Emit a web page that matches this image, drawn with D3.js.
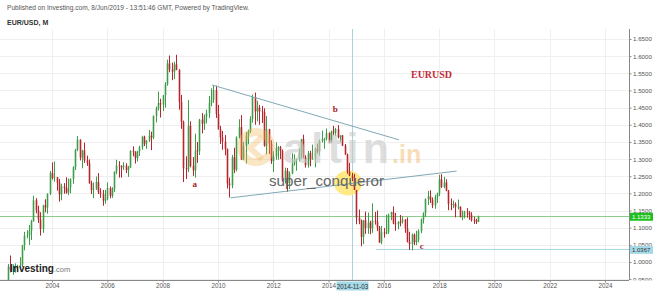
<!DOCTYPE html>
<html><head><meta charset="utf-8">
<script src="https://cdn.jsdelivr.net/npm/d3@7"></script>
<style>html,body{margin:0;padding:0;background:#fff;overflow:hidden}</style>
</head><body><svg id="c" width="654" height="292"></svg>
<script>
// ---------- DATA ----------
const firstMonth = "2002-01";
const firstOpen = 0.8900;
const closes = [
0.8605,0.8700,0.8720,0.9015,0.9330,0.9870,0.9780,0.9810,0.9870,0.9880,0.9920,1.0490,
1.0770,1.0780,1.0910,1.1180,1.1800,1.1500,1.1240,1.0960,1.1650,1.1590,1.1990,1.2590,
1.2450,1.2470,1.2310,1.1970,1.2200,1.2160,1.2020,1.2170,1.2420,1.2760,1.3270,1.3570,
1.3040,1.3250,1.2960,1.2880,1.2300,1.2100,1.2130,1.2330,1.2030,1.1990,1.1790,1.1840,
1.2160,1.1930,1.2120,1.2630,1.2810,1.2790,1.2760,1.2810,1.2680,1.2750,1.3240,1.3200,
1.3030,1.3230,1.3350,1.3650,1.3450,1.3540,1.3680,1.3630,1.4260,1.4480,1.4630,1.4590,
1.4860,1.5180,1.5790,1.5610,1.5550,1.5760,1.5600,1.4670,1.4090,1.2730,1.2700,1.3970,
1.2800,1.2670,1.3250,1.3230,1.4150,1.4030,1.4250,1.4330,1.4640,1.4720,1.5010,1.4320,
1.3870,1.3630,1.3510,1.3290,1.2290,1.2230,1.3050,1.2690,1.3630,1.3930,1.2990,1.3380,
1.3690,1.3810,1.4170,1.4810,1.4390,1.4500,1.4390,1.4370,1.3390,1.3870,1.3450,1.2940,
1.3080,1.3330,1.3340,1.3240,1.2370,1.2660,1.2300,1.2580,1.2860,1.2960,1.2990,1.3190,
1.3580,1.3060,1.2820,1.3170,1.3000,1.3010,1.3300,1.3220,1.3530,1.3580,1.3590,1.3760,
1.3490,1.3800,1.3770,1.3870,1.3640,1.3690,1.3390,1.3130,1.2630,1.2520,1.2450,1.2100,
1.1290,1.1200,1.0730,1.1220,1.0990,1.1150,1.0980,1.1210,1.1180,1.1000,1.0570,1.0860,
1.0830,1.0870,1.1380,1.1450,1.1130,1.1100,1.1170,1.1160,1.1240,1.0980,1.0590,1.0520,
1.0800,1.0580,1.0650,1.0900,1.1240,1.1420,1.1840,1.1910,1.1810,1.1650,1.1900,1.2000,
1.2410,1.2190,1.2320,1.2080,1.1690,1.1680,1.1690,1.1600,1.1610,1.1310,1.1320,1.1470,
1.1450,1.1370,1.1220,1.1210,1.1170,1.1333];
const highs = [
0.9040,0.8790,0.8850,0.9040,0.9380,0.9940,1.0190,0.9930,0.9960,0.9920,1.0140,1.0500,
1.0880,1.0930,1.1080,1.1230,1.1930,1.1860,1.1640,1.1450,1.1670,1.1830,1.2000,1.2650,
1.2900,1.2930,1.2480,1.2420,1.2280,1.2300,1.2470,1.2430,1.2440,1.2790,1.3300,1.3670,
1.3570,1.3270,1.3480,1.3100,1.2990,1.2370,1.2320,1.2490,1.2590,1.2150,1.2100,1.2100,
1.2320,1.2200,1.2180,1.2640,1.2980,1.2940,1.2820,1.2910,1.2880,1.2800,1.3260,1.3370,
1.3230,1.3240,1.3390,1.3680,1.3680,1.3550,1.3850,1.3800,1.4270,1.4530,1.4970,1.4760,
1.4870,1.5240,1.5900,1.6020,1.5810,1.5840,1.6040,1.5620,1.4870,1.4120,1.3080,1.4720,
1.4100,1.3060,1.3740,1.3500,1.4170,1.4340,1.4300,1.4440,1.4840,1.5060,1.5140,1.5140,
1.4580,1.3970,1.3820,1.3700,1.3310,1.2460,1.3120,1.3330,1.3660,1.4160,1.4280,1.3500,
1.3790,1.3860,1.4250,1.4880,1.4940,1.4700,1.4580,1.4550,1.4480,1.4250,1.3880,1.3550,
1.3230,1.3490,1.3380,1.3380,1.3280,1.2750,1.2740,1.2640,1.3170,1.3140,1.3010,1.3310,
1.3590,1.3710,1.3110,1.3240,1.3240,1.3420,1.3340,1.3450,1.3570,1.3830,1.3620,1.3890,
1.3780,1.3830,1.3970,1.3910,1.3990,1.3690,1.3700,1.3440,1.3160,1.2890,1.2600,1.2570,
1.2100,1.1530,1.1240,1.1220,1.1470,1.1440,1.1200,1.1710,1.1460,1.1500,1.1050,1.1050,
1.0990,1.1380,1.1410,1.1460,1.1620,1.1430,1.1190,1.1370,1.1330,1.1250,1.1300,1.0880,
1.0830,1.0830,1.0910,1.0950,1.1270,1.1450,1.1850,1.2070,1.2090,1.1880,1.1960,1.2020,
1.2540,1.2560,1.2480,1.2410,1.2100,1.1850,1.1790,1.1740,1.1820,1.1620,1.1500,1.1490,
1.1570,1.1490,1.1450,1.1320,1.1260,1.1350];
const lows = [
0.8580,0.8565,0.8660,0.8720,0.9000,0.9300,0.9700,0.9630,0.9690,0.9700,0.9870,0.9860,
1.0340,1.0690,1.0500,1.0640,1.1180,1.1420,1.1140,1.0770,1.0850,1.1450,1.1410,1.1950,
1.2400,1.2340,1.2080,1.1760,1.1800,1.1990,1.1990,1.1950,1.2000,1.2280,1.2680,1.3230,
1.2960,1.2730,1.2890,1.2800,1.2280,1.1980,1.1860,1.2100,1.1980,1.1870,1.1640,1.1700,
1.1800,1.1860,1.1870,1.2040,1.2560,1.2460,1.2460,1.2680,1.2590,1.2480,1.2740,1.3080,
1.2870,1.2930,1.3090,1.3270,1.3380,1.3300,1.3500,1.3260,1.3580,1.4070,1.4420,1.4210,
1.4400,1.4500,1.5140,1.5530,1.5300,1.5330,1.5590,1.4440,1.3880,1.2330,1.2420,1.2620,
1.2760,1.2510,1.2460,1.2890,1.3120,1.3750,1.3850,1.4040,1.4200,1.4540,1.4640,1.4200,
1.3860,1.3440,1.3270,1.3110,1.2140,1.1880,1.2150,1.2590,1.2640,1.3600,1.2970,1.2970,
1.2870,1.3430,1.3760,1.4060,1.4000,1.4100,1.4000,1.4050,1.3360,1.3140,1.3150,1.2860,
1.2620,1.2980,1.2980,1.3000,1.2340,1.2290,1.2040,1.2130,1.2560,1.2810,1.2660,1.2930,
1.3000,1.3020,1.2750,1.2750,1.2790,1.2990,1.2760,1.3160,1.3100,1.3480,1.3300,1.3540,
1.3480,1.3480,1.3690,1.3670,1.3600,1.3500,1.3380,1.3130,1.2570,1.2500,1.2360,1.2100,
1.1100,1.1100,1.0460,1.0520,1.0820,1.0820,1.0810,1.0850,1.1090,1.0900,1.0560,1.0520,
1.0710,1.0810,1.0820,1.1220,1.1100,1.0910,1.0950,1.1040,1.1120,1.0850,1.0570,1.0350,
1.0340,1.0490,1.0490,1.0570,1.0840,1.1120,1.1310,1.1660,1.1720,1.1570,1.1550,1.1720,
1.1920,1.2160,1.2150,1.2060,1.1510,1.1510,1.1570,1.1300,1.1530,1.1300,1.1220,1.1270,
1.1290,1.1230,1.1180,1.1110,1.1110,1.1160];
const yTickValues = [0.95,1.00,1.05,1.10,1.15,1.20,1.25,1.30,1.35,1.40,1.45,1.50,1.55,1.60,1.65];
const xTickYears = [2004,2006,2008,2010,2012,2014,2016,2018,2020,2022,2024];
const lastPrice = 1.1333;
const levelPrice = 1.0367;
const levelStart = "2015-09-20";
const markerDate = "2014-11-03";
const upperTrend = [["2009-10-15",1.5160],["2016-07-20",1.3560]];
const lowerTrend = [["2010-06-15",1.1870],["2018-08-20",1.2650]];
const waveLabels = [
  {t:"a", d:"2009-03-01", v:1.2190},
  {t:"b", d:"2014-04-01", v:1.4370},
  {t:"c", d:"2017-05-15", v:1.0380}
];
const titleLabel = {t:"EURUSD", d:"2016-12-25", v:1.5360};

// ---------- SETUP ----------
const svg = d3.select("#c");
const W = 654, H = 292;
const plot = {left:0, right:629, top:29, bottom:280};
const parseD = d3.utcParse("%Y-%m-%d");
const parseM = d3.utcParse("%Y-%m");
const x = d3.scaleUtc().domain([new Date(Date.UTC(2004,0,1)), new Date(Date.UTC(2024,0,1))]).range([52,605]);
const y = d3.scaleLinear().domain([1.0,1.65]).range([262,39]);

const start = parseM(firstMonth);
const bars = closes.map((c,i)=>({
  date: d3.utcMonth.offset(start,i),
  open: i===0 ? firstOpen : closes[i-1],
  high: highs[i], low: lows[i], close: c
}));

svg.append("rect").attr("width",W).attr("height",H).attr("fill","#fff");
const defs = svg.append("defs");
defs.append("clipPath").attr("id","clip").append("rect")
  .attr("x",plot.left).attr("y",plot.top).attr("width",plot.right-plot.left).attr("height",plot.bottom-plot.top);

// grid
const grid = svg.append("g");
grid.selectAll("line.h").data(yTickValues).join("line")
  .attr("x1",plot.left).attr("x2",plot.right)
  .attr("y1",d=>Math.round(y(d))+0.5).attr("y2",d=>Math.round(y(d))+0.5)
  .attr("stroke","#efefef");
grid.selectAll("line.v").data(xTickYears).join("line")
  .attr("x1",d=>Math.round(x(new Date(Date.UTC(d,0,1))))+0.5).attr("x2",d=>Math.round(x(new Date(Date.UTC(d,0,1))))+0.5)
  .attr("y1",plot.top).attr("y2",plot.bottom)
  .attr("stroke","#efefef");

const chart = svg.append("g").attr("clip-path","url(#clip)");

// marker vertical line
const mx = Math.round(x(parseD(markerDate)))+0.5;
chart.append("line").attr("x1",mx).attr("x2",mx).attr("y1",plot.top).attr("y2",plot.bottom)
  .attr("stroke","#a9d2df").attr("stroke-width",1);

// yellow highlight
chart.append("ellipse").attr("cx",348).attr("cy",183).attr("rx",14).attr("ry",12.5)
  .attr("fill","#ffe878").attr("opacity",0.9);

// last price line
chart.append("line").attr("x1",plot.left).attr("x2",plot.right)
  .attr("y1",Math.round(y(lastPrice))+0.5).attr("y2",Math.round(y(lastPrice))+0.5)
  .attr("stroke","#8ccd8c").attr("stroke-width",1);
// level line
chart.append("line").attr("x1",x(parseD(levelStart))).attr("x2",plot.right)
  .attr("y1",Math.round(y(levelPrice))+0.5).attr("y2",Math.round(y(levelPrice))+0.5)
  .attr("stroke","#a8d6e4").attr("stroke-width",1);

// candles
const up = "#3f9c48", dn = "#b6262c";
const cg = chart.append("g");
cg.selectAll("line").data(bars).join("line")
  .attr("x1",d=>Math.round(x(d.date))+0.5).attr("x2",d=>Math.round(x(d.date))+0.5)
  .attr("y1",d=>y(d.high)).attr("y2",d=>y(d.low))
  .attr("stroke",d=>d.close>=d.open?up:dn).attr("stroke-width",1);
cg.selectAll("rect").data(bars).join("rect")
  .attr("x",d=>Math.round(x(d.date))-0.3).attr("width",1.6)
  .attr("y",d=>y(Math.max(d.open,d.close)))
  .attr("height",d=>Math.max(0.8,Math.abs(y(d.open)-y(d.close))))
  .attr("fill",d=>d.close>=d.open?up:dn);

// trendlines
[upperTrend, lowerTrend].forEach(t=>{
  chart.append("line")
    .attr("x1",x(parseD(t[0][0]))).attr("y1",y(t[0][1]))
    .attr("x2",x(parseD(t[1][0]))).attr("y2",y(t[1][1]))
    .attr("stroke","#7fa9b5").attr("stroke-width",1);
});

// watermark
const wm = svg.append("g");
wm.append("circle").attr("cx",256).attr("cy",147).attr("r",15)
  .attr("fill","none").attr("stroke","#f1b45a").attr("stroke-width",8).attr("opacity",0.35);
wm.append("path").attr("d","M262,137 L250,148 L262,159").attr("fill","none")
  .attr("stroke","#f1b45a").attr("stroke-width",6).attr("opacity",0.35);
wm.append("text").attr("x",283).attr("y",163).text("altin")
  .attr("font-family","Arial, 'Liberation Sans', sans-serif").attr("font-weight","bold")
  .attr("font-size",43).attr("textLength",106).attr("lengthAdjust","spacing")
  .attr("fill","#c9c9c9").attr("opacity",0.6);
wm.append("text").attr("x",392).attr("y",163).text(".in")
  .attr("font-family","Arial, 'Liberation Sans', sans-serif").attr("font-weight","bold")
  .attr("font-size",25).attr("fill","#f0b469").attr("opacity",0.45);
wm.append("text").attr("x",269).attr("y",186).text("super_conqueror")
  .attr("font-family","Arial, 'Liberation Sans', sans-serif")
  .attr("font-size",14.5).attr("fill","#666").attr("textLength",115).attr("lengthAdjust","spacingAndGlyphs");

// wave labels
svg.selectAll("text.wave").data(waveLabels).join("text").attr("class","wave")
  .attr("x",d=>x(parseD(d.d))).attr("y",d=>y(d.v)).attr("text-anchor","middle")
  .attr("font-family","'Liberation Serif','DejaVu Serif',serif").attr("font-weight","bold")
  .attr("font-size",9).attr("fill","#a8222e").text(d=>d.t);
svg.append("text").attr("x",x(parseD(titleLabel.d))).attr("y",y(titleLabel.v))
  .attr("font-family","'Liberation Serif','DejaVu Serif',serif").attr("font-weight","bold")
  .attr("font-size",10).attr("fill","#c42a37").text(titleLabel.t);

// axes
svg.append("line").attr("x1",plot.right+0.5).attr("x2",plot.right+0.5).attr("y1",plot.top).attr("y2",plot.bottom)
  .attr("stroke","#888");
svg.append("line").attr("x1",plot.left).attr("x2",plot.right).attr("y1",plot.bottom+0.5).attr("y2",plot.bottom+0.5)
  .attr("stroke","#888");

defs.append("clipPath").attr("id","clipAxisY").append("rect")
  .attr("x",-1).attr("y",plot.top).attr("width",30).attr("height",plot.bottom-plot.top+0.5);
const yAxis = svg.append("g").attr("transform",`translate(${plot.right+0.5},0)`)
  .attr("clip-path","url(#clipAxisY)")
  .call(d3.axisRight(y).tickValues(yTickValues).tickFormat(d3.format(".4f")).tickSize(2).tickPadding(1.5));
yAxis.select(".domain").remove();
yAxis.selectAll("line").attr("stroke","#888");
yAxis.selectAll("text").attr("font-family","Arial, 'Liberation Sans', sans-serif").attr("font-size",6.2).attr("fill","#555");

const xAxis = svg.append("g").attr("transform",`translate(0,${plot.bottom+0.5})`)
  .call(d3.axisBottom(x).tickValues(xTickYears.map(yv=>new Date(Date.UTC(yv,0,1)))).tickFormat(d3.utcFormat("%Y")).tickSize(2).tickPadding(1));
xAxis.select(".domain").remove();
xAxis.selectAll("line").attr("stroke","#888");
xAxis.selectAll("text").attr("font-family","Arial, 'Liberation Sans', sans-serif").attr("font-size",6.3).attr("fill","#555");

// price labels
function priceTag(v, bg, fg){
  const yy = y(v);
  svg.append("rect").attr("x",plot.right+1).attr("y",yy-3.5).attr("width",23).attr("height",8).attr("fill",bg);
  svg.append("text").attr("x",plot.right+3).attr("y",yy+2.7).text(d3.format(".4f")(v))
    .attr("font-family","Arial, 'Liberation Sans', sans-serif").attr("font-size",6).attr("fill",fg);
}
priceTag(lastPrice,"#1fbf1f","#fff");
priceTag(levelPrice,"#a5d9e8","#333");

// date tag
svg.append("rect").attr("x",mx-16).attr("y",plot.bottom+1.5).attr("width",32).attr("height",9).attr("fill","#a5d9e8");
svg.append("text").attr("x",mx).attr("y",plot.bottom+8.5).attr("text-anchor","middle").text(markerDate)
  .attr("font-family","Arial, 'Liberation Sans', sans-serif").attr("font-size",6.3).attr("fill","#333");

// header
svg.append("text").attr("x",7).attr("y",10).text("Published on Investing.com, 8/Jun/2019 - 13:51:46 GMT, Powered by TradingView.")
  .attr("font-family","Arial, 'Liberation Sans', sans-serif").attr("font-size",6.6).attr("fill","#555");
svg.append("text").attr("x",7).attr("y",24.5).text("EUR/USD, M")
  .attr("font-family","Arial, 'Liberation Sans', sans-serif").attr("font-size",7).attr("font-weight","bold").attr("fill","#333");

// investing logo
const lg = svg.append("text").attr("x",10).attr("y",272)
  .attr("font-family","Arial, 'Liberation Sans', sans-serif");
lg.append("tspan").text("Investing").attr("font-weight","bold").attr("font-size",10).attr("fill","#222");
lg.append("tspan").text(".com").attr("font-size",7.5).attr("fill","#777");
</script></body></html>
